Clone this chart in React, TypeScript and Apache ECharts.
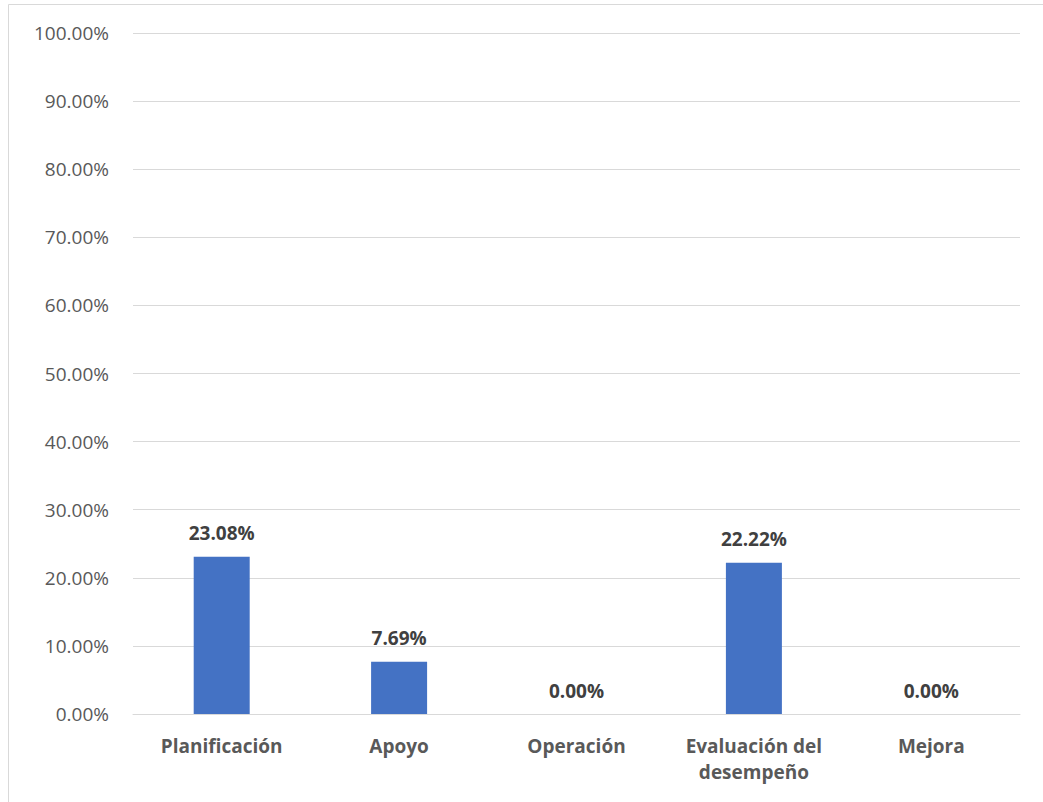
import React, { useEffect, useRef } from "react";
import * as echarts from "echarts";

const categories = ["Planificación", "Apoyo", "Operación", "Evaluación del\ndesempeño", "Mejora"];
const values = [23.08, 7.69, 0, 22.22, 0];
const yTicks = { min: 0, max: 100, interval: 10 };

export default function App() {
  const ref = useRef<HTMLDivElement>(null);
  useEffect(() => {
    const chart = echarts.init(ref.current!, null, { renderer: "svg" });
    chart.setOption({
      animation: false,
      backgroundColor: "#ffffff",
      textStyle: { fontFamily: "Open Sans" },
      graphic: [
        {
          type: "rect",
          shape: { x: 8.5, y: 4.5, width: 1060, height: 820 },
          style: { fill: "none", stroke: "#D9D9D9", lineWidth: 1 },
          silent: true,
        },
      ],
      grid: { left: 133, right: 23, top: 33, bottom: 88 },
      xAxis: {
        type: "category",
        data: categories,
        axisTick: { show: false },
        axisLine: { lineStyle: { color: "#D9D9D9", width: 1 } },
        axisLabel: {
          interval: 0,
          hideOverlap: false,
          color: "#595959",
          fontWeight: "bold",
          fontSize: 19,
          margin: 19,
          lineHeight: 26,
          fontFamily: "Open Sans",
        },
      },
      yAxis: {
        type: "value",
        min: yTicks.min,
        max: yTicks.max,
        interval: yTicks.interval,
        axisLine: { show: false },
        axisTick: { show: false },
        splitLine: { lineStyle: { color: "#D9D9D9", width: 1 } },
        axisLabel: {
          color: "#595959",
          fontSize: 19,
          margin: 24,
          fontFamily: "Open Sans",
          formatter: (v: number) => v.toFixed(2) + "%",
        },
      },
      series: [
        {
          type: "bar",
          data: values,
          barWidth: 56,
          itemStyle: { color: "#4472C4" },
          label: {
            show: true,
            position: "top",
            distance: 14,
            color: "#404040",
            fontWeight: "bold",
            fontSize: 19,
            fontFamily: "Open Sans",
            formatter: (p: any) => Number(p.value).toFixed(2) + "%",
          },
        },
      ],
    });
    return () => chart.dispose();
  }, []);
  return (
    <div
      ref={ref}
      style={{ position: "fixed", left: 0, top: 0, width: 1043, height: 802 }}
    />
  );
}
